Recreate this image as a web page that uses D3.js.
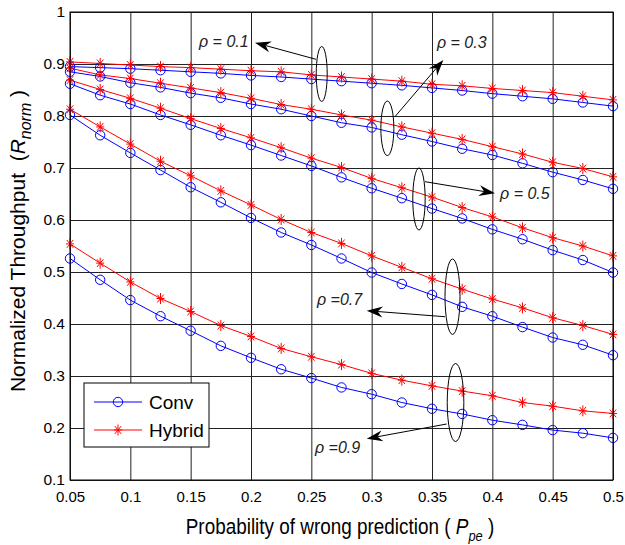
<!DOCTYPE html>
<html><head><meta charset="utf-8">
<script src="https://cdn.jsdelivr.net/npm/d3@7"></script>
<style>
html,body{margin:0;padding:0;background:#fff;}
text{font-family:"Liberation Sans",Arial,Helvetica,sans-serif;}
</style></head>
<body>
<svg id="chart" width="625" height="545"></svg>
<script>
// ---------- data ----------
const pe = [0.05,0.075,0.1,0.125,0.15,0.175,0.2,0.225,0.25,0.275,0.3,0.325,0.35,0.375,0.4,0.425,0.45,0.475,0.5];
const xTicks = [0.05,0.1,0.15,0.2,0.25,0.3,0.35,0.4,0.45,0.5];
const xTickLabels = ["0.05","0.1","0.15","0.2","0.25","0.3","0.35","0.4","0.45","0.5"];
const yTicks = [0.1,0.2,0.3,0.4,0.5,0.6,0.7,0.8,0.9,1];
const yTickLabels = ["0.1","0.2","0.3","0.4","0.5","0.6","0.7","0.8","0.9","1"];
const rhoLabels = ["ρ = 0.1","ρ = 0.3","ρ = 0.5","ρ =0.7","ρ =0.9"];

const conv01 = [0.895,0.893,0.891,0.888,0.885,0.882,0.878,0.875,0.871,0.867,0.863,0.859,0.854,0.849,0.843,0.838,0.833,0.826,0.819];
const hyb01  = [0.904,0.901,0.898,0.895,0.893,0.890,0.887,0.885,0.879,0.875,0.871,0.867,0.861,0.858,0.853,0.849,0.845,0.838,0.831];
const conv03 = [0.885,0.876,0.864,0.855,0.844,0.835,0.823,0.813,0.800,0.787,0.778,0.764,0.751,0.737,0.725,0.709,0.692,0.677,0.660];
const hyb03  = [0.892,0.879,0.872,0.863,0.854,0.845,0.834,0.822,0.813,0.802,0.792,0.779,0.767,0.755,0.741,0.727,0.711,0.699,0.683];
const conv05 = [0.862,0.840,0.823,0.802,0.783,0.763,0.744,0.724,0.704,0.682,0.661,0.642,0.622,0.603,0.582,0.563,0.542,0.523,0.499];
const hyb05  = [0.869,0.851,0.834,0.815,0.795,0.776,0.758,0.739,0.719,0.701,0.680,0.662,0.644,0.624,0.606,0.585,0.566,0.550,0.531];
const conv07 = [0.802,0.763,0.729,0.696,0.663,0.634,0.604,0.576,0.552,0.526,0.499,0.477,0.456,0.433,0.415,0.394,0.374,0.360,0.340];
const hyb07  = [0.813,0.779,0.746,0.713,0.685,0.656,0.629,0.601,0.576,0.555,0.531,0.509,0.487,0.467,0.448,0.431,0.412,0.397,0.380];
const conv09 = [0.526,0.485,0.446,0.415,0.387,0.358,0.335,0.313,0.296,0.278,0.265,0.249,0.237,0.227,0.215,0.206,0.196,0.190,0.181];
const hyb09  = [0.554,0.517,0.481,0.449,0.424,0.397,0.376,0.353,0.337,0.322,0.305,0.292,0.281,0.271,0.262,0.249,0.242,0.233,0.228];

const convSeries = [conv01,conv03,conv05,conv07,conv09];
const hybSeries  = [hyb01,hyb03,hyb05,hyb07,hyb09];

// annotation anchors in data coordinates
const ellipseCenters = [[0.2586,0.8808],[0.3130,0.7763],[0.3392,0.6404],[0.3670,0.4525],[0.3695,0.2490]];
const arrowFrom = [[0.2539,0.909],[0.3193,0.7987],[0.3442,0.6737],[0.3608,0.4140],[0.3622,0.2077]];
const arrowTo   = [[0.2033,0.941],[0.3594,0.9077],[0.4022,0.6513],[0.2959,0.4256],[0.2959,0.1794]];
const labelPos  = [[0.1569,0.9327],[0.3541,0.9308],[0.4064,0.6404],[0.2547,0.4365],[0.2530,0.152]];

// ---------- layout ----------
const L=70, R=613, T=12, B=480;
const svg = d3.select("#chart");
const x = d3.scaleLinear().domain([0.05,0.5]).range([L,R]);
const y = d3.scaleLinear().domain([0.1,1]).range([B,T]);

// grid
svg.append("g").attr("transform",`translate(0,${B})`)
  .call(d3.axisBottom(x).tickValues(xTicks).tickSize(-(B-T)).tickFormat(""))
  .call(g=>{g.select(".domain").remove(); g.selectAll("line").attr("stroke","#222").attr("stroke-width",1);});
svg.append("g").attr("transform",`translate(${L},0)`)
  .call(d3.axisLeft(y).tickValues(yTicks).tickSize(-(R-L)).tickFormat(""))
  .call(g=>{g.select(".domain").remove(); g.selectAll("line").attr("stroke","#222").attr("stroke-width",1);});

// tick labels
svg.append("g").attr("transform",`translate(0,${B})`)
  .call(d3.axisBottom(x).tickValues(xTicks).tickSize(0).tickPadding(11).tickFormat((d,i)=>xTickLabels[i]))
  .call(g=>{g.select(".domain").remove(); g.selectAll("text").attr("font-size",15).attr("fill","#000").style("font-family","Liberation Sans, Arial, sans-serif");});
svg.append("g").attr("transform",`translate(${L},0)`)
  .call(d3.axisLeft(y).tickValues(yTicks).tickSize(0).tickPadding(5).tickFormat((d,i)=>yTickLabels[i]))
  .call(g=>{g.select(".domain").remove(); g.selectAll("text").attr("font-size",15.5).attr("fill","#000").style("font-family","Liberation Sans, Arial, sans-serif");});

// lines & markers
const line = d3.line().x((d,i)=>x(pe[i])).y(d=>y(d));
const starPath = "M0,-5.5V5.5M-4,0H4M-3.2,-3.9L3.2,3.9M-3.2,3.9L3.2,-3.9";
const plot = svg.append("g");
convSeries.forEach(s=>{
  plot.append("path").datum(s).attr("d",line).attr("fill","none").attr("stroke","#0000ff").attr("stroke-width",1);
});
hybSeries.forEach(s=>{
  plot.append("path").datum(s).attr("d",line).attr("fill","none").attr("stroke","#ff0000").attr("stroke-width",1);
});
convSeries.forEach(s=>{
  plot.selectAll(null).data(s).enter().append("circle")
    .attr("cx",(d,i)=>x(pe[i])).attr("cy",d=>y(d)).attr("r",4.7)
    .attr("fill","none").attr("stroke","#0000ff").attr("stroke-width",1);
});
hybSeries.forEach(s=>{
  plot.selectAll(null).data(s).enter().append("path")
    .attr("transform",(d,i)=>`translate(${x(pe[i])},${y(d)})`).attr("d",starPath)
    .attr("fill","none").attr("stroke","#ff0000").attr("stroke-width",1);
});

// frame
svg.append("rect").attr("x",L).attr("y",T).attr("width",R-L).attr("height",B-T)
  .attr("fill","none").attr("stroke","#000").attr("stroke-width",1);

// annotations
const ellR = [[5.5,27.5],[6.5,27.3],[6.2,31],[7.5,37.7],[8.3,39]];
const ann = svg.append("g");
ellipseCenters.forEach((c,i)=>{
  ann.append("ellipse").attr("cx",x(c[0])).attr("cy",y(c[1])).attr("rx",ellR[i][0]).attr("ry",ellR[i][1])
    .attr("fill","none").attr("stroke","#000").attr("stroke-width",1);
});
arrowFrom.forEach((f,i)=>{
  const x1=x(f[0]), y1=y(f[1]), x2=x(arrowTo[i][0]), y2=y(arrowTo[i][1]);
  const ang=Math.atan2(y2-y1,x2-x1), len=16, hw=5.5, notch=11;
  const ux=Math.cos(ang), uy=Math.sin(ang), px=-uy, py=ux;
  const bx=x2-ux*len, by=y2-uy*len, nx=x2-ux*notch, ny=y2-uy*notch;
  ann.append("line").attr("x1",x1).attr("y1",y1).attr("x2",nx).attr("y2",ny).attr("stroke","#000").attr("stroke-width",1);
  ann.append("path").attr("d",`M${x2},${y2}L${bx+px*hw},${by+py*hw}L${nx},${ny}L${bx-px*hw},${by-py*hw}Z`).attr("fill","#000");
});
labelPos.forEach((p,i)=>{
  ann.append("text").attr("x",x(p[0])).attr("y",y(p[1])).attr("font-size",16).attr("font-style","italic")
    .attr("fill","#222").text(rhoLabels[i]);
});

// legend
const lg = svg.append("g");
lg.append("rect").attr("x",84).attr("y",383).attr("width",125).attr("height",64).attr("fill","#fff").attr("stroke","#000").attr("stroke-width",1);
[["Conv","#0000ff",402],["Hybrid","#ff0000",430]].forEach((e,i)=>{
  lg.append("line").attr("x1",94).attr("x2",142).attr("y1",e[2]).attr("y2",e[2]).attr("stroke",e[1]).attr("stroke-width",1);
  if(i===0) lg.append("circle").attr("cx",118).attr("cy",e[2]).attr("r",4.7).attr("fill","none").attr("stroke",e[1]);
  else lg.append("path").attr("transform",`translate(118,${e[2]})`).attr("d",starPath).attr("fill","none").attr("stroke",e[1]);
  lg.append("text").attr("x",149).attr("y",e[2]+7).attr("font-size",19).attr("fill","#000").text(e[0]);
});

// axis titles
const xt = svg.append("text").attr("transform","translate(340,534) scale(0.86,1)").attr("text-anchor","middle")
  .attr("font-size",22).attr("fill","#000");
xt.append("tspan").text("Probability of wrong prediction ( ");
xt.append("tspan").attr("font-style","italic").text("P");
xt.append("tspan").attr("font-style","italic").attr("font-size",15).attr("dy",7).text("pe");
xt.append("tspan").attr("dy",-7).text(" )");

const yt = svg.append("text").attr("transform","translate(25,241) rotate(-90)").attr("text-anchor","middle")
  .attr("font-size",21).attr("fill","#000");
yt.append("tspan").text("Normalized Throughput\u00a0\u00a0(");
yt.append("tspan").attr("font-style","italic").text("R");
yt.append("tspan").attr("font-style","italic").attr("font-size",16).attr("dy",6).text("norm");
yt.append("tspan").attr("dy",-6).text("\u00a0)");
</script>
</body></html>
